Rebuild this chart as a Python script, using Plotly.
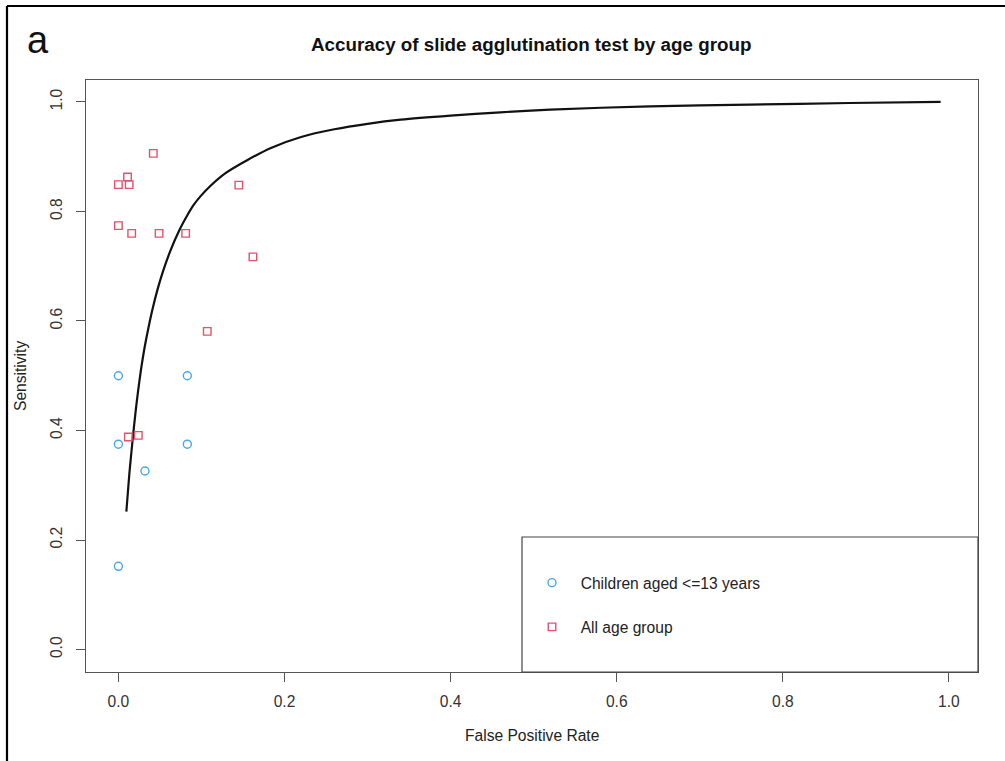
import plotly.graph_objects as go

# ---- data ----
all_fpr = [0.042, 0.011, 0.0, 0.013, 0.145, 0.0, 0.016, 0.049, 0.081, 0.162, 0.107, 0.012, 0.024]
all_sens = [0.906, 0.863, 0.849, 0.849, 0.848, 0.774, 0.760, 0.760, 0.760, 0.717, 0.581, 0.388, 0.391]

child_fpr = [0.0, 0.083, 0.0, 0.083, 0.032, 0.0]
child_sens = [0.500, 0.500, 0.375, 0.375, 0.326, 0.152]

curve_fpr = [0.0096, 0.0132, 0.0172, 0.0204, 0.0232, 0.0273, 0.0317, 0.0365, 0.041, 0.0474,
             0.0539, 0.0628, 0.0728, 0.083, 0.0902, 0.099, 0.111, 0.129, 0.1555, 0.1837,
             0.220, 0.260, 0.300, 0.340, 0.400, 0.460, 0.520, 0.640, 0.760, 0.880, 0.990]
curve_sens = [0.252, 0.321, 0.384, 0.430, 0.466, 0.512, 0.553, 0.590, 0.621, 0.659,
              0.6915, 0.729, 0.764, 0.793, 0.811, 0.828, 0.847, 0.870, 0.894, 0.916,
              0.936, 0.950, 0.960, 0.9676, 0.975, 0.981, 0.986, 0.992, 0.995, 0.998, 1.000]

x_ticks = [0.0, 0.2, 0.4, 0.6, 0.8, 1.0]
y_ticks = [0.0, 0.2, 0.4, 0.6, 0.8, 1.0]

title_text = "Accuracy of slide agglutination test by age group"
panel_label = "a"
child_label = "Children aged <=13 years"
all_label = "All age group"

BLUE = "#4AA6EC"
RED = "#DF536B"
AXC = "#555555"
FONT = "Liberation Sans, Arial, Helvetica, sans-serif"

W, H = 1005, 761
L, R, T, B = 86, 27, 80, 89
pw, ph = W - L - R, H - T - B

fig = go.Figure()

fig.add_trace(go.Scatter(
    x=curve_fpr, y=curve_sens, mode="lines",
    line=dict(color="#111111", width=2.2, shape="spline", smoothing=0.6),
    showlegend=False, hoverinfo="skip"))

fig.add_trace(go.Scatter(
    x=child_fpr, y=child_sens, mode="markers", name="\u00a0\u00a0" + child_label,
    legendgroup="c",
    marker=dict(symbol="circle-open", size=8, color=BLUE, line=dict(width=1.4, color=BLUE))))

fig.add_trace(go.Scatter(
    x=all_fpr, y=all_sens, mode="markers", name="\u00a0\u00a0" + all_label,
    legendgroup="a",
    marker=dict(symbol="square-open", size=7.5, color=RED, line=dict(width=1.4, color=RED))))

axis_common = dict(
    showgrid=False, zeroline=False, showline=True, mirror=True,
    linecolor=AXC, linewidth=1.2, ticks="outside", ticklen=9, tickwidth=1.2,
    tickcolor=AXC, tickfont=dict(family=FONT, size=15.6, color="#333333"),
)

fig.update_layout(
    width=W, height=H,
    margin=dict(l=L, r=R, t=T, b=B, pad=0),
    paper_bgcolor="white", plot_bgcolor="white",
    xaxis=dict(range=[-0.039, 1.035], tickvals=x_ticks,
               ticktext=[f"{v:.1f}" for v in x_ticks], ticklabelstandoff=6, **axis_common),
    yaxis=dict(range=[-0.041, 1.040], tickvals=y_ticks,
               ticktext=[f"{v:.1f}" for v in y_ticks], tickangle=-90,
               ticklabelstandoff=8, **axis_common),
    showlegend=True,
    legend=dict(x=(532 - L) / pw, xanchor="left", y=(H - B - 566) / ph, yanchor="top",
                bgcolor="rgba(0,0,0,0)", borderwidth=0,
                font=dict(family=FONT, size=15.6, color="#222222"),
                traceorder="grouped", tracegroupgap=21, itemwidth=30),
    font=dict(family=FONT),
)

# legend box (R style)
fig.add_shape(type="rect", xref="paper", yref="paper",
              x0=(522 - L) / pw, x1=1.0, y0=0.0, y1=(H - B - 537) / ph,
              line=dict(color="#444444", width=1.2), fillcolor="rgba(0,0,0,0)", layer="above")

# outer frame (left and top edges visible)
fig.add_shape(type="line", xref="paper", yref="paper",
              x0=(7 - L) / pw, x1=(7 - L) / pw, y0=(H - B - 765) / ph, y1=(H - B - 6) / ph,
              line=dict(color="black", width=2.2))
fig.add_shape(type="line", xref="paper", yref="paper",
              x0=(7 - L) / pw, x1=(1010 - L) / pw, y0=(H - B - 6) / ph, y1=(H - B - 6) / ph,
              line=dict(color="black", width=2.2))

# title, panel label, axis titles
fig.add_annotation(text="<b>" + title_text + "</b>", xref="paper", yref="paper",
                   x=(531 - L) / pw, y=(H - B - 45) / ph, xanchor="center", yanchor="middle",
                   showarrow=False, font=dict(family=FONT, size=18.8, color="#111111"))
fig.add_annotation(text=panel_label, xref="paper", yref="paper",
                   x=(38 - L) / pw, y=(H - B - 40) / ph, xanchor="center", yanchor="middle",
                   showarrow=False, font=dict(family=FONT, size=38, color="#111111"))
fig.add_annotation(text="False Positive Rate", xref="paper", yref="paper",
                   x=(532 - L) / pw, y=(H - B - 735) / ph, xanchor="center", yanchor="middle",
                   showarrow=False, font=dict(family=FONT, size=15.6, color="#222222"))
fig.add_annotation(text="Sensitivity", xref="paper", yref="paper", textangle=-90,
                   x=(20 - L) / pw, y=(H - B - 376) / ph, xanchor="center", yanchor="middle",
                   showarrow=False, font=dict(family=FONT, size=15.6, color="#222222"))

fig.write_html("out.html")
